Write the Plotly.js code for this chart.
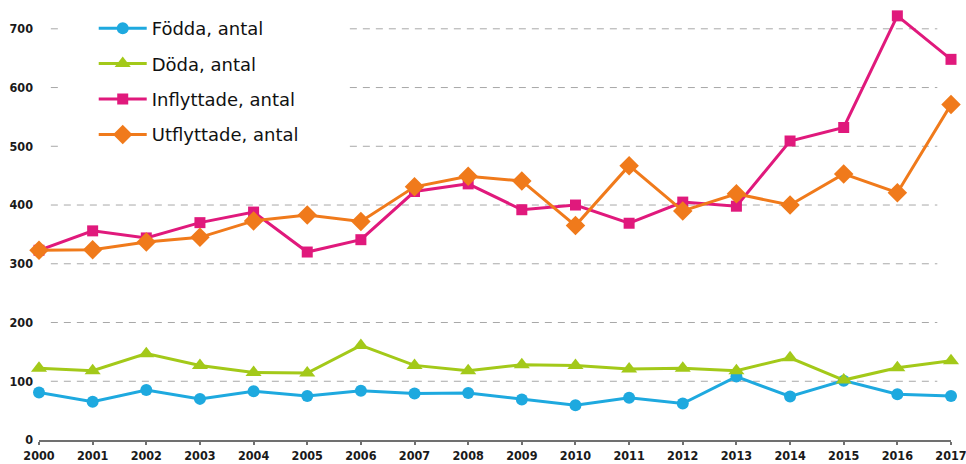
<!DOCTYPE html>
<html>
<head>
<meta charset="utf-8">
<script src="https://cdn.plot.ly/plotly-3.0.1.min.js"></script>
<style>html,body{margin:0;padding:0;background:#fff;}#chart{width:966px;height:464px;}</style>
</head>
<body>
<div id="chart"></div>
<script>
const years = [2000,2001,2002,2003,2004,2005,2006,2007,2008,2009,2010,2011,2012,2013,2014,2015,2016,2017];
const fodda = [81,65,85,70,83,75,84,79,80,69,59,72,62,108,74,101,78,75];
const doda = [122,118,147,127,115,114,161,127,118,128,127,121,122,118,140,102,123,135];
const inflyttade = [323,356,344,370,388,320,341,423,436,392,400,369,405,398,509,532,722,648];
const utflyttade = [323,324,337,345,373,383,372,431,449,441,365,467,390,419,400,453,421,571];
const seriesNames = ['Födda, antal','Döda, antal','Inflyttade, antal','Utflyttade, antal'];
const yTicks = [0,100,200,300,400,500,600,700];

const colors = ['#1ea9df','#a3c919','#e0197c','#f07a1b'];
const symbols = ['circle','triangle-up','square','diamond'];
const sizes = [12,14,11,15];
const data = [fodda, doda, inflyttade, utflyttade];

const traces = data.map((vals,i)=>({
  x: years, y: vals, name: seriesNames[i], type:'scatter', mode:'lines+markers',
  legendgroup: 'g'+i, cliponaxis:false,
  line:{color:colors[i], width:3},
  marker:{color:colors[i], symbol:symbols[i], size:sizes[i]}
}));

const shapes = yTicks.filter(v=>v>0).map(v=>({
  type:'line', xref:'paper', yref:'y', x0:0.013, x1:0.985, y0:v, y1:v,
  line:{color:'#a8a8a8', width:1, dash:'7px,6px'}, layer:'below'
}));
// white panel behind legend area (hides gridlines there, as in the original)
shapes.push({type:'rect', xref:'paper', yref:'paper', x0:0.021, x1:0.336, y0:0.67, y1:1.02,
  fillcolor:'#fff', line:{width:0}, layer:'below'});

const tickFont = {family:'DejaVu Sans Condensed, DejaVu Sans, sans-serif', size:12.5, color:'#1a1a1a', weight:'bold'};

const layout = {
  width:966, height:464,
  margin:{l:39, r:15, t:10, b:24},
  paper_bgcolor:'#fff', plot_bgcolor:'#fff',
  showlegend:true,
  legend:{x:0.06, y:1.0, xanchor:'left', yanchor:'top', bgcolor:'rgba(255,255,255,0)',
    font:{family:'DejaVu Sans, sans-serif', size:18, color:'#111'},
    traceorder:'grouped', tracegroupgap:9, itemwidth:48},
  xaxis:{range:[2000,2017], tickvals:years, ticktext:years.map(String), showgrid:false, zeroline:false,
    showline:true, linecolor:'#707070', linewidth:2, ticks:'outside', ticklen:3, tickwidth:2, tickcolor:'#707070',
    tickfont:tickFont, ticklabeloverflow:'allow', ticklabelstandoff:0, fixedrange:true},
  yaxis:{range:[0,732], tickvals:yTicks, showgrid:false, zeroline:false, showline:false, ticks:'',
    tickfont:tickFont, ticklabelstandoff:5, fixedrange:true},
  shapes: shapes
};

Plotly.newPlot('chart', traces, layout, {displayModeBar:false, staticPlot:true});
</script>
</body>
</html>
